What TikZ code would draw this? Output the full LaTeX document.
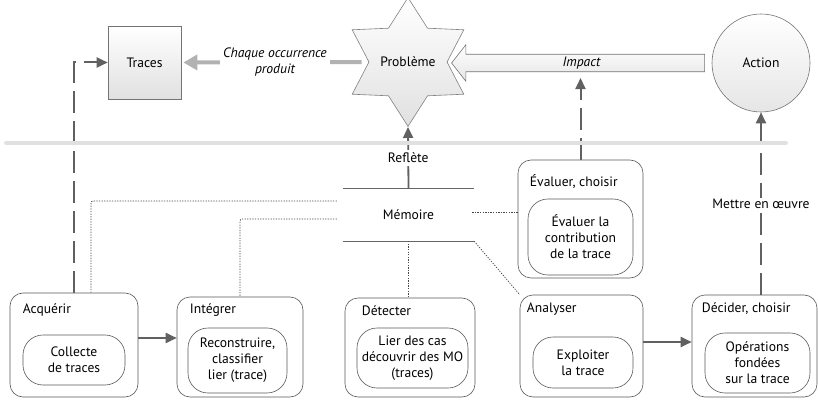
\documentclass[tikz,border=0pt]{standalone}
\usepackage{fontspec}
\setmainfont{PT Sans}
\usetikzlibrary{positioning,arrows.meta,calc,shapes.geometric,shapes.arrows}
\tikzset{
  outbox/.style={draw=black!65,line width=0.6pt,rounded corners=13pt},
  inbox/.style={draw=black!65,line width=0.6pt,rounded corners=20pt,align=center},
  ttl/.style={anchor=west,inner sep=0pt},
  trbox/.style={draw=black!55,line width=0.6pt,top color=white,bottom color=black!12,
    minimum size=73},
  probstar/.style={star,star points=6,star point ratio=1.65,minimum size=116,inner sep=0pt,
    draw=black!50,line width=0.6pt,top color=white,bottom color=black!12},
  actcirc/.style={circle,minimum size=98,draw=black!55,line width=0.6pt,
    top color=white,bottom color=black!10},
  impar/.style={single arrow,shape border rotate=180,minimum height=253,
    single arrow head extend=9.5pt,single arrow tip angle=104,inner ysep=2.3pt,
    draw=black!55,line width=0.6pt,top color=white,bottom color=black!10},
  itlbl/.style={font=\fontsize{13.6}{16}\selectfont\itshape},
  dashar/.style={draw=black!62,line width=2pt,dash pattern=on 22pt off 8pt,
    -{Triangle[length=11pt,width=10pt]}},
  solar/.style={draw=black!62,line width=1.8pt,-{Triangle[length=11pt,width=10pt]}},
  grayar/.style={draw=black!30,line width=4pt,-{Triangle[length=14pt,width=15pt]}},
  dotln/.style={draw=black!72,line width=0.7pt,dash pattern=on 1.3pt off 1.3pt},
  memln/.style={draw=black!60,line width=0.8pt},
  band/.style={draw=black!12,line width=4pt,line cap=round},
}
\begin{document}
\begin{tikzpicture}[x=1pt,y=1pt,font=\fontsize{13.6}{16}\selectfont]
  \useasboundingbox (0,0) rectangle (818,399);
  % top row
  \node[trbox] (traces) at (144.5,336.5) {Traces};
  \node[probstar] (prob) at (408,337) {Problème};
  \node[actcirc] (action) at (761,336) {Action};
  \node[impar,itlbl] (impact) at (581.5,336) {Impact};
  % memoire
  \node[minimum width=131,minimum height=52] (mem) at (408.5,184) {Mémoire};
  \draw[memln] (mem.north west) -- (mem.north east);
  \draw[memln] (mem.south west) -- (mem.south east);
  % evaluer
  \node[outbox,minimum width=125,minimum height=118] (evalu) at (580.5,180) {};
  \node[ttl] (evalut) at ($(evalu.north west)+(12,-22)$) {Évaluer, choisir};
  \node[inbox,minimum width=105,minimum height=76] (evaluin) at (580.5,162)
    {Évaluer la\\contribution\\de la trace};
  % bottom row
  \node[outbox,minimum width=128,minimum height=104] (acq) at (74,54) {};
  \node[ttl] (acqt) at ($(acq.north west)+(13,-17)$) {Acquérir};
  \node[inbox,minimum width=102,minimum height=50] (acqin) at (74,39) {Collecte\\de traces};
  \node[outbox,minimum width=126,minimum height=100] (integ) at (240,52) {};
  \node[ttl] (integt) at ($(integ.north west)+(13,-13)$) {Intégrer};
  \node[inbox,minimum width=99,minimum height=65] (integin) at (237.5,38.5)
    {Reconstruire,\\classifier\\lier (trace)};
  \node[outbox,minimum width=130,minimum height=99] (detect) at (410,51.5) {};
  \node[ttl] (detectt) at ($(detect.north west)+(17,-13)$) {Détecter};
  \node[inbox,minimum width=111,minimum height=60] (detectin) at (412.5,41)
    {Lier des cas\\découvrir des MO\\(traces)};
  \node[outbox,minimum width=123,minimum height=102] (analy) at (581.5,53) {};
  \node[ttl] (analyt) at ($(analy.north west)+(7,-14)$) {Analyser};
  \node[inbox,minimum width=100,minimum height=51] (analyin) at (583,36.5)
    {Exploiter\\la trace};
  \node[outbox,minimum width=125,minimum height=102] (decid) at (754.5,53) {};
  \node[ttl] (decidt) at ($(decid.north west)+(10,-14)$) {Décider, choisir};
  \node[inbox,minimum width=105,minimum height=60] (decidin) at (757.5,36)
    {Opérations\\fondées\\sur la trace};
  % connectors
  \draw[grayar,shorten <=7pt,shorten >=2pt] (prob.west) --
    node[fill=white,itlbl,align=center] (occ) {Chaque occurrence\\produit} (traces.east);
  \draw[solar] (mem.north) -- node[fill=white] (refl) {Reflète} (prob.south);
  \draw[dashar] (acq.north) |- (traces.west);
  \draw[dashar,shorten >=6pt] (evalu.north) -- (evalu.north |- impact.south);
  \draw[dashar] (action.south |- decid.north) --
    node[fill=white,inner sep=1pt] (mise) {Mettre en œuvre} (action.south);
  \draw[solar] ([yshift=7pt]acq.east) -- ([yshift=7pt]acq.east -| integ.west);
  \draw[solar] ([yshift=4pt]analy.east) -- ([yshift=4pt]analy.east -| decid.west);
  % memoire links
  \draw[dotln,rounded corners=2pt] ($(mem.west)+(-6,14)$) -| ($(acq.north)+(17,0)$);
  \draw[dotln,rounded corners=2pt] ($(mem.west)+(-6,-4)$) -| (integ.north);
  \draw[dotln] (mem.south) -- (mem.south |- detect.north);
  \draw[dotln] (mem.south east) -- (analy.north west);
  \coordinate (mr) at ($(mem.east)+(-2,3)$);
  \draw[dotln] (mr) -- (mr -| evalu.west);
  % separator
  \draw[band] (6,256) -- (786,256);
\end{tikzpicture}
\end{document}
